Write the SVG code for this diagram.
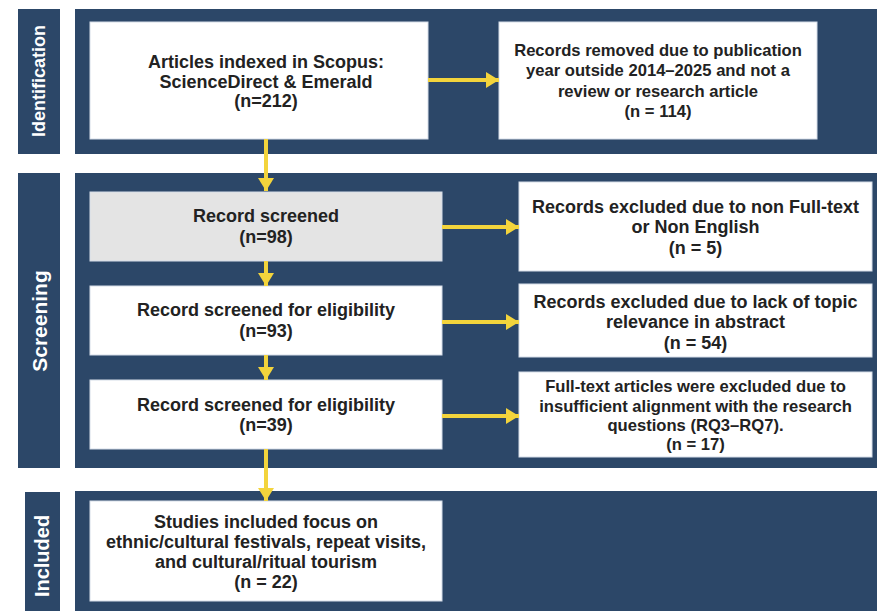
<svg xmlns="http://www.w3.org/2000/svg" width="877" height="611" viewBox="0 0 877 611">
<style>
.panel{fill:#2c4768}
.box{fill:#ffffff;stroke:#d5dde8;stroke-width:1}
.gray{fill:#e4e4e4;stroke:#d5dde8;stroke-width:1}
.t{font-family:"Liberation Sans",Arial,sans-serif;font-weight:bold;font-size:18px;fill:#222222;text-anchor:middle}
.s{font-size:16.6px}
.side{font-family:"Liberation Sans",Arial,sans-serif;font-weight:bold;fill:#ffffff;text-anchor:middle}
.arrow{stroke:#f3d43c;stroke-width:4;fill:none}
</style>
<defs>
<marker id="ah" markerUnits="userSpaceOnUse" markerWidth="13" markerHeight="16" refX="13" refY="8" orient="auto">
<path d="M0,0 L13,8 L0,16 Z" fill="#f3d43c"/>
</marker>
</defs>
<rect width="877" height="611" fill="#ffffff"/>
<g id="stage-identification">
<rect class="panel" x="18" y="9" width="42" height="145"/>
<rect class="panel" x="75" y="9" width="802" height="145"/>
<text class="side" font-size="18" transform="translate(45,81) rotate(-90)">Identification</text>
</g>
<g id="stage-screening">
<rect class="panel" x="18" y="173" width="42" height="295"/>
<rect class="panel" x="75" y="173" width="802" height="295"/>
<text class="side" font-size="21" transform="translate(47,321) rotate(-90)">Screening</text>
</g>
<g id="stage-included">
<rect class="panel" x="25" y="492" width="35" height="119"/>
<rect class="panel" x="75" y="491" width="802" height="120"/>
<text class="side" font-size="20" transform="translate(49,556) rotate(-90)">Included</text>
</g>
<g id="n-scopus">
<rect class="box" x="90" y="22" width="338" height="117"/>
<text class="t" x="266" y="68">Articles indexed in Scopus:</text>
<text class="t" x="266" y="88">ScienceDirect &amp; Emerald</text>
<text class="t" x="266" y="107">(n=212)</text>
</g>
<g id="n-removed">
<rect class="box" x="499" y="22" width="318" height="117"/>
<text class="t s" x="658" y="56">Records removed due to publication</text>
<text class="t s" x="658" y="76">year outside 2014–2025 and not a</text>
<text class="t s" x="658" y="97">review or research article</text>
<text class="t s" x="658" y="117">(n = 114)</text>
</g>
<g id="n-screened">
<rect class="gray" x="90" y="192" width="352" height="69"/>
<text class="t" x="266" y="222">Record screened</text>
<text class="t" x="266" y="243">(n=98)</text>
</g>
<g id="n-eligibility1">
<rect class="box" x="90" y="286" width="352" height="69"/>
<text class="t" x="266" y="316">Record screened for eligibility</text>
<text class="t" x="266" y="337">(n=93)</text>
</g>
<g id="n-eligibility2">
<rect class="box" x="90" y="380" width="352" height="69"/>
<text class="t" x="266" y="411">Record screened for eligibility</text>
<text class="t" x="266" y="431">(n=39)</text>
</g>
<g id="n-excl-fulltext">
<rect class="box" x="519" y="182" width="353" height="89"/>
<text class="t" x="695.5" y="213">Records excluded due to non Full-text</text>
<text class="t" x="695.5" y="233">or Non English</text>
<text class="t" x="695.5" y="254">(n = 5)</text>
</g>
<g id="n-excl-topic">
<rect class="box" x="519" y="284" width="353" height="73"/>
<text class="t" x="695.5" y="308">Records excluded due to lack of topic</text>
<text class="t" x="695.5" y="328">relevance in abstract</text>
<text class="t" x="695.5" y="349">(n = 54)</text>
</g>
<g id="n-excl-alignment">
<rect class="box" x="519" y="372" width="353" height="85"/>
<text class="t s" x="695.5" y="392">Full-text articles were excluded due to</text>
<text class="t s" x="695.5" y="412">insufficient alignment with the research</text>
<text class="t s" x="695.5" y="431">questions (RQ3–RQ7).</text>
<text class="t s" x="695.5" y="450">(n = 17)</text>
</g>
<g id="n-included">
<rect class="box" x="90" y="501" width="352" height="100"/>
<text class="t" x="266" y="528">Studies included focus on</text>
<text class="t" x="266" y="548">ethnic/cultural festivals, repeat visits,</text>
<text class="t" x="266" y="568">and cultural/ritual tourism</text>
<text class="t" x="266" y="588">(n = 22)</text>
</g>
<g id="connectors">
<line class="arrow" x1="428" y1="80" x2="499" y2="80" marker-end="url(#ah)"/>
<line class="arrow" x1="442" y1="227" x2="519" y2="227" marker-end="url(#ah)"/>
<line class="arrow" x1="442" y1="322" x2="519" y2="322" marker-end="url(#ah)"/>
<line class="arrow" x1="442" y1="416" x2="519" y2="416" marker-end="url(#ah)"/>
<line class="arrow" x1="266" y1="139" x2="266" y2="191" marker-end="url(#ah)"/>
<line class="arrow" x1="266" y1="261" x2="266" y2="286" marker-end="url(#ah)"/>
<line class="arrow" x1="266" y1="355" x2="266" y2="380" marker-end="url(#ah)"/>
<line class="arrow" x1="266" y1="449" x2="266" y2="501" marker-end="url(#ah)"/>
</g>
</svg>
